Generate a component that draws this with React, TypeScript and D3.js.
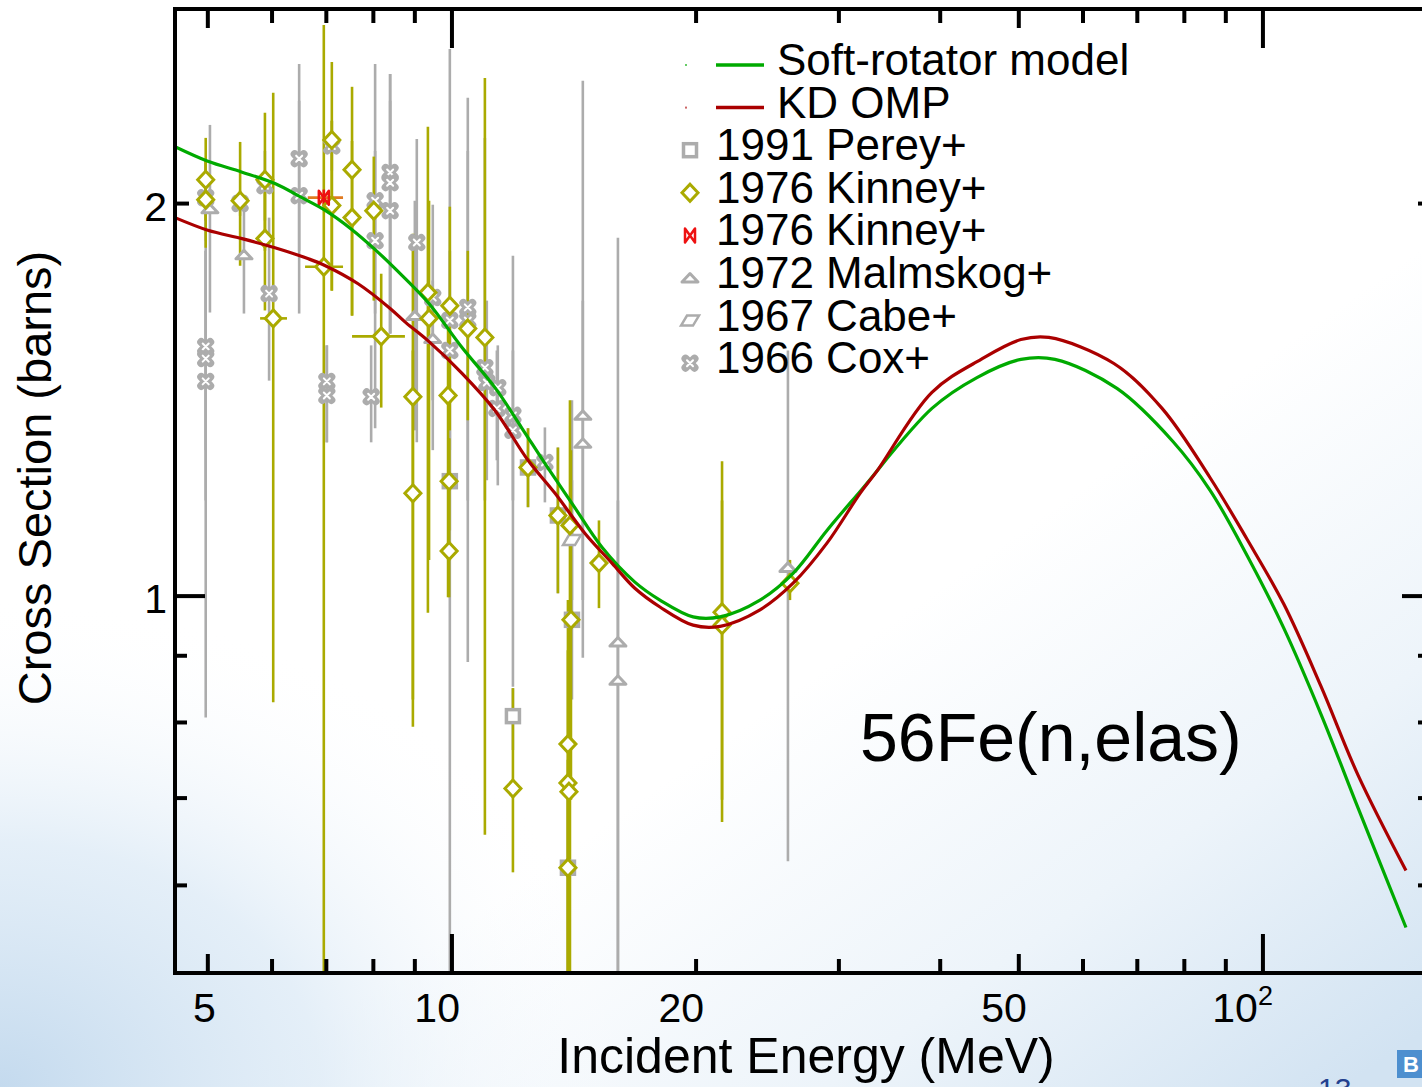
import React, { useEffect } from 'react';
import * as d3 from 'd3';

const W = 1422;
const H = 1087;
const PLOT = { left: 175, right: 1420, top: 9, bottom: 973 };
const X_DOMAIN: [number, number] = [4.555, 156.2];
const Y_DOMAIN: [number, number] = [0.514, 2.82];

// Model curves: [E (MeV), sigma (b)]
const softRotator: [number, number][] = [
  [4.555, 2.211], [5.0, 2.155], [5.5, 2.115], [6.05, 2.072], [6.52, 2.022], [6.97, 1.977],
  [7.53, 1.91], [8.04, 1.844], [8.51, 1.783], [9.34, 1.68], [10.29, 1.551],
  [11.3, 1.445], [12.2, 1.345], [13.02, 1.264], [14.06, 1.178], [15.31, 1.09], [16.81, 1.025],
  [18.05, 0.993], [19.83, 0.964], [21.41, 0.964], [23.98, 0.993], [26.34, 1.041], [29.0, 1.123],
  [31.86, 1.203], [39.07, 1.393], [44.4, 1.471], [50.3, 1.519], [55.4, 1.519], [66.07, 1.443],
  [77.45, 1.314], [86.03, 1.206], [95.56, 1.075], [106.1, 0.945], [117.9, 0.812], [131.0, 0.688],
  [150.1, 0.557],
];
const kdOmp: [number, number][] = [
  [4.555, 1.951], [5.0, 1.908], [5.51, 1.88], [6.05, 1.85], [6.64, 1.815], [6.97, 1.793],
  [7.66, 1.736], [8.39, 1.662], [8.78, 1.62], [9.34, 1.57], [10.29, 1.482], [11.3, 1.388],
  [12.41, 1.271], [13.4, 1.199], [14.59, 1.117], [15.75, 1.06], [16.81, 1.014], [18.05, 0.981],
  [19.83, 0.95], [21.41, 0.948], [23.98, 0.976], [26.34, 1.023], [29.0, 1.098], [31.86, 1.199],
  [33.42, 1.247], [39.07, 1.433], [44.92, 1.519], [50.3, 1.573], [54.45, 1.579], [65.5, 1.508],
  [75.1, 1.393], [86.03, 1.233], [95.56, 1.106], [106.1, 0.986], [117.9, 0.853], [131.0, 0.729],
  [150.1, 0.616],
];

// Experimental data: [E, sigma, sigmaLow, sigmaHigh, eLow?, eHigh?]
const perey: number[][] = [
  [9.94, 1.225, 1.123, 1.34], [11.89, 0.809, 0.762, 0.85], [12.41, 1.255, 1.17, 1.345],
  [13.51, 1.153, 1.005, 1.3], [14.06, 0.959, 0.833, 1.413], [13.9, 0.619, 0.5, 0.698],
];
const kinney: number[][] = [
  [4.97, 2.086, 1.941, 2.246], [4.97, 2.014, 1.85, 2.157], [5.48, 2.01, 1.792, 2.23],
  [5.88, 2.086, 1.84, 2.348], [5.88, 1.88, 1.656, 2.082], [6.02, 1.633, 0.829, 2.432, 5.8, 6.26],
  [6.95, 1.789, 0.5, 2.742, 6.59, 7.34], [7.11, 2.238, 1.715, 2.568], [7.11, 1.993, 1.715, 2.315],
  [7.53, 2.123, 1.641, 2.458], [7.53, 1.951, 1.641, 2.234], [8.01, 1.975, 1.685, 2.173],
  [8.18, 1.582, 1.395, 1.767, 7.53, 8.75], [8.95, 1.422, 0.794, 1.896], [8.95, 1.199, 0.833, 1.543],
  [9.34, 1.709, 0.971, 2.291], [9.37, 1.633, 1.066, 2.01], [9.94, 1.67, 1.34, 1.989],
  [9.89, 1.425, 0.998, 1.685], [9.92, 1.083, 0.998, 1.321], [9.92, 1.225, 1.123, 1.321],
  [10.46, 1.604, 1.364, 1.84], [10.98, 1.579, 0.656, 2.497], [11.89, 0.712, 0.614, 0.85],
  [13.98, 1.133, 0.5, 1.413], [13.9, 0.77, 0.5, 0.993], [13.9, 0.719, 0.5, 0.909],
  [13.94, 0.708, 0.5, 0.833], [13.9, 0.619, 0.5, 0.749], [14.02, 0.959, 0.698, 1.294],
  [15.18, 1.06, 0.979, 1.143], [21.53, 0.972, 0.671, 1.269], [21.53, 0.95, 0.698, 1.184],
  [26.11, 1.023, 0.993, 1.066], [13.51, 1.153, 1.005, 1.3], [12.41, 1.255, 1.17, 1.345],
];
const kinneyRed: number[][] = [[6.95, 2.021, 1.99, 2.05, 6.64, 7.34]];
const malmskog: number[][] = [
  [5.03, 1.982, 1.65, 2.298], [5.54, 1.827, 1.647, 2.01], [9.0, 1.641, 1.34, 2.01],
  [9.47, 1.576, 1.413, 1.746], [14.5, 1.376, 0.897, 2.484], [14.5, 1.31, 0.993, 1.685],
  [16.02, 0.922, 0.5, 1.883], [16.02, 0.862, 0.5, 1.184], [25.96, 1.052, 0.626, 1.543],
];
const cabe: number[][] = [[14.06, 1.104, 0.993, 1.227]];
const cox: number[][] = [
  [4.97, 2.021, 1.873, 2.157], [4.97, 1.554, 1.294, 1.84], [4.97, 1.521, 1.184, 1.84],
  [4.97, 1.461, 0.807, 2.157], [5.48, 2.0, 1.957, 2.046], [5.88, 2.064, 1.941, 2.195],
  [5.95, 1.706, 1.463, 1.951], [6.48, 2.165, 1.84, 2.559], [6.48, 2.028, 1.647, 2.398],
  [7.11, 2.214, 2.12, 2.315], [7.01, 1.461, 1.312, 1.557], [7.01, 1.425, 1.312, 1.557],
  [8.04, 2.01, 1.647, 2.559], [8.04, 1.873, 1.345, 2.195], [7.95, 1.422, 1.312, 1.557],
  [8.39, 2.113, 1.59, 2.514], [8.39, 2.075, 1.59, 2.514], [8.39, 1.975, 1.59, 2.398],
  [9.05, 1.867, 1.312, 2.242], [9.47, 1.694, 1.294, 1.996], [9.94, 1.627, 0.5, 2.628],
  [9.94, 1.543, 1.294, 1.84], [10.46, 1.665, 0.89, 2.411], [10.46, 1.627, 1.184, 2.195],
  [10.98, 1.497, 1.184, 2.246], [11.04, 1.458, 1.227, 1.685], [11.39, 1.445, 1.216, 1.557],
  [11.36, 1.393, 1.271, 1.543], [11.89, 1.376, 0.852, 1.824], [11.89, 1.34, 1.184, 1.543],
  [13.02, 1.266, 1.18, 1.347],
];

const xTicksMajor = [10, 100];
const xTicksMid = [5, 50];
const xTicksMinor = [6, 7, 8, 9, 20, 30, 40, 60, 70, 80, 90];
const xTickLabels = [
  { v: 5, t: '5', sup: '' }, { v: 10, t: '10', sup: '' }, { v: 20, t: '20', sup: '' },
  { v: 50, t: '50', sup: '' }, { v: 100, t: '10', sup: '2' },
];
const yTicksMajor = [1];
const yTicksMid = [2];
const yTicksMinor = [0.6, 0.7, 0.8, 0.9];
const yTickLabels = [{ v: 1, t: '1' }, { v: 2, t: '2' }];

const legendItems = [
  { name: 'Soft-rotator model', kind: 'line', color: '#00aa00' },
  { name: 'KD OMP', kind: 'line', color: '#aa0000' },
  { name: '1991 Perey+', kind: 'square' },
  { name: '1976 Kinney+', kind: 'diamond' },
  { name: '1976 Kinney+', kind: 'bowtie' },
  { name: '1972 Malmskog+', kind: 'triangle' },
  { name: '1967 Cabe+', kind: 'para' },
  { name: '1966 Cox+', kind: 'cox' },
];

const GRAY = '#acacac';
const OLIVE = '#aaaa00';
const RED = '#ee1111';
const FONT = '"Liberation Sans", Arial, Helvetica, sans-serif';

function Marker({ kind, x, y }: { kind: string; x: number; y: number }) {
  const t = `translate(${x},${y})`;
  switch (kind) {
    case 'square':
      return <rect transform={t} x={-6.5} y={-6.5} width={13} height={13} fill="#fff" stroke={GRAY} strokeWidth={3.5} />;
    case 'diamond':
      return <path transform={t} d="M0,-8.5L8,0L0,8.5L-8,0Z" fill="#fff" stroke={OLIVE} strokeWidth={3} />;
    case 'bowtie':
      return <path transform={t} d="M-5,-7L5,7L5,-7L-5,7Z" fill="none" stroke={RED} strokeWidth={2.5} strokeLinejoin="round" />;
    case 'triangle':
      return <path transform={t} d="M-8,4L0,-4.5L8,4Z" fill="#fff" stroke={GRAY} strokeWidth={3} strokeLinejoin="round" />;
    case 'para':
      return <path transform={t} d="M-9,5L-3,-5L9,-5L3,5Z" fill="#fff" stroke={GRAY} strokeWidth={2.5} />;
    case 'cox':
      return (
        <g transform={t}>
          <path d="M-4.5,-4.5L4.5,4.5M4.5,-4.5L-4.5,4.5" stroke={GRAY} strokeWidth={8} strokeLinecap="round" />
          <path d="M-3,-3L3,3M3,-3L-3,3" stroke="#fff" strokeWidth={2} strokeLinecap="round" />
        </g>
      );
    default:
      return null;
  }
}

export default function App() {
  useEffect(() => {
    document.body.style.margin = '0';
  }, []);

  const x = d3.scaleLog().domain(X_DOMAIN).range([PLOT.left, PLOT.right]);
  const y = d3.scaleLog().domain(Y_DOMAIN).range([PLOT.bottom, PLOT.top]);
  const line = d3
    .line<[number, number]>()
    .x((d) => x(d[0]))
    .y((d) => y(d[1]))
    .curve(d3.curveCatmullRom.alpha(0.5));

  const rightAxisX = 1432;

  const series = [
    { data: perey, kind: 'square', color: GRAY },
    { data: malmskog, kind: 'triangle', color: GRAY },
    { data: cabe, kind: 'para', color: GRAY },
    { data: cox, kind: 'cox', color: GRAY },
    { data: kinney, kind: 'diamond', color: OLIVE },
    { data: kinneyRed, kind: 'bowtie', color: RED },
  ];

  const bars = (s: { data: number[][]; kind: string; color: string }) =>
    s.data.map((d, i) => (
      <g key={`${s.kind}-bar-${i}`}>
        <line x1={x(d[0])} x2={x(d[0])} y1={y(d[2])} y2={y(d[3])} stroke={s.color} strokeWidth={2.6} />
        {d.length > 4 && (
          <line
            x1={x(d[4])}
            x2={x(d[5])}
            y1={y(d[1])}
            y2={y(d[1])}
            stroke={s.kind === 'bowtie' ? '#e07a20' : s.color}
            strokeWidth={2.6}
          />
        )}
      </g>
    ));

  const legendX = 690;
  const legendBase = 75;
  const legendStep = 42.6;

  return (
    <div style={{ position: 'absolute', left: 0, top: 0 }}>
      <svg width={W} height={H} viewBox={`0 0 ${W} ${H}`} style={{ display: 'block' }}>
        <defs>
          <linearGradient id="bg" x1="0.4" y1="0.3" x2="1" y2="0.95">
            <stop offset="0" stopColor="#ffffff" />
            <stop offset="0.4" stopColor="#ffffff" />
            <stop offset="0.72" stopColor="#edf4fa" />
            <stop offset="1" stopColor="#d2e3f2" />
          </linearGradient>
          <radialGradient id="bg2" cx="0" cy="1" r="0.45">
            <stop offset="0" stopColor="#c4daee" stopOpacity="1" />
            <stop offset="0.5" stopColor="#d9e8f5" stopOpacity="0.7" />
            <stop offset="1" stopColor="#ffffff" stopOpacity="0" />
          </radialGradient>
          <clipPath id="plotClip">
            <rect x={PLOT.left} y={PLOT.top} width={W - PLOT.left} height={PLOT.bottom - PLOT.top} />
          </clipPath>
        </defs>
        <rect x={0} y={0} width={W} height={H} fill="url(#bg)" />
        <rect x={0} y={0} width={W} height={H} fill="url(#bg2)" />

        {/* data */}
        <g clipPath="url(#plotClip)">
          {series.map((s) => bars(s))}
          {series.map((s) =>
            s.data.map((d, i) => <Marker key={`${s.kind}-m-${i}`} kind={s.kind} x={x(d[0])} y={y(d[1])} />)
          )}
          <path d={line(softRotator) || ''} fill="none" stroke="#00aa00" strokeWidth={3.2} />
          <path d={line(kdOmp) || ''} fill="none" stroke="#aa0000" strokeWidth={3.2} />
        </g>

        {/* frame */}
        <g stroke="#000" strokeWidth={4} fill="none">
          <line x1={PLOT.left} x2={W} y1={PLOT.top} y2={PLOT.top} />
          <line x1={PLOT.left} x2={W} y1={PLOT.bottom} y2={PLOT.bottom} />
          <line x1={PLOT.left} x2={PLOT.left} y1={PLOT.top - 2} y2={PLOT.bottom + 2} />
          {xTicksMajor.map((v) => (
            <g key={`xM${v}`}>
              <line x1={x(v)} x2={x(v)} y1={PLOT.bottom} y2={PLOT.bottom - 39} />
              <line x1={x(v)} x2={x(v)} y1={PLOT.top} y2={PLOT.top + 39} />
            </g>
          ))}
          {xTicksMid.map((v) => (
            <g key={`xD${v}`}>
              <line x1={x(v)} x2={x(v)} y1={PLOT.bottom} y2={PLOT.bottom - 19} />
              <line x1={x(v)} x2={x(v)} y1={PLOT.top} y2={PLOT.top + 19} />
            </g>
          ))}
          {xTicksMinor.map((v) => (
            <g key={`xm${v}`}>
              <line x1={x(v)} x2={x(v)} y1={PLOT.bottom} y2={PLOT.bottom - 14} />
              <line x1={x(v)} x2={x(v)} y1={PLOT.top} y2={PLOT.top + 14} />
            </g>
          ))}
          {yTicksMajor.map((v) => (
            <g key={`yM${v}`}>
              <line x1={PLOT.left} x2={PLOT.left + 30} y1={y(v)} y2={y(v)} />
              <line x1={rightAxisX} x2={rightAxisX - 30} y1={y(v)} y2={y(v)} />
            </g>
          ))}
          {yTicksMid.map((v) => (
            <g key={`yD${v}`}>
              <line x1={PLOT.left} x2={PLOT.left + 14} y1={y(v)} y2={y(v)} />
              <line x1={rightAxisX} x2={rightAxisX - 14} y1={y(v)} y2={y(v)} />
            </g>
          ))}
          {yTicksMinor.map((v) => (
            <g key={`ym${v}`}>
              <line x1={PLOT.left} x2={PLOT.left + 12} y1={y(v)} y2={y(v)} />
              <line x1={rightAxisX} x2={rightAxisX - 14} y1={y(v)} y2={y(v)} />
            </g>
          ))}
        </g>

        {/* tick labels */}
        <g fontFamily={FONT} fontSize={41} fill="#000">
          {xTickLabels.map((l) => (
            <text key={`xl${l.v}`} x={x(l.v) + (l.sup ? 10 : 8)} y={1022} textAnchor="end">
              {l.t}
              {l.sup && (
                <tspan fontSize={27} dy={-17}>
                  {l.sup}
                </tspan>
              )}
            </text>
          ))}
          {yTickLabels.map((l) => (
            <text key={`yl${l.v}`} x={167} y={y(l.v) + 17} textAnchor="end">
              {l.t}
            </text>
          ))}
        </g>

        {/* axis titles */}
        <text x={806} y={1073} fontFamily={FONT} fontSize={50} textAnchor="middle" fill="#000">
          Incident Energy (MeV)
        </text>
        <text
          transform="translate(51,478) rotate(-90)"
          fontFamily={FONT}
          fontSize={47}
          textAnchor="middle"
          fill="#000"
        >
          Cross Section (barns)
        </text>

        {/* reaction label */}
        <text x={860} y={761} fontFamily={FONT} fontSize={68} fill="#000">
          56Fe(n,elas)
        </text>

        {/* legend */}
        <g fontFamily={FONT} fontSize={44} fill="#000">
          {legendItems.map((it, i) => {
            const base = legendBase + i * legendStep;
            const cy = base - 10;
            if (it.kind === 'line') {
              return (
                <g key={`lg${i}`}>
                  <rect x={legendX - 5} y={cy - 1} width={2} height={2} fill={it.color} opacity={0.6} />
                  <line x1={716} x2={764} y1={cy} y2={cy} stroke={it.color} strokeWidth={3.5} />
                  <text x={777} y={base}>
                    {it.name}
                  </text>
                </g>
              );
            }
            return (
              <g key={`lg${i}`}>
                <Marker kind={it.kind} x={legendX} y={cy} />
                <text x={716} y={base}>
                  {it.name}
                </text>
              </g>
            );
          })}
        </g>

        {/* slide decorations */}
        <text x={1318} y={1099} fontFamily={FONT} fontSize={30} fill="#23408e">
          13
        </text>
        <rect x={1397} y={1050} width={25} height={28} fill="#4d8fcf" />
        <text x={1403} y={1072} fontFamily={FONT} fontSize={22} fontWeight="bold" fill="#fff">
          B
        </text>
      </svg>
    </div>
  );
}
